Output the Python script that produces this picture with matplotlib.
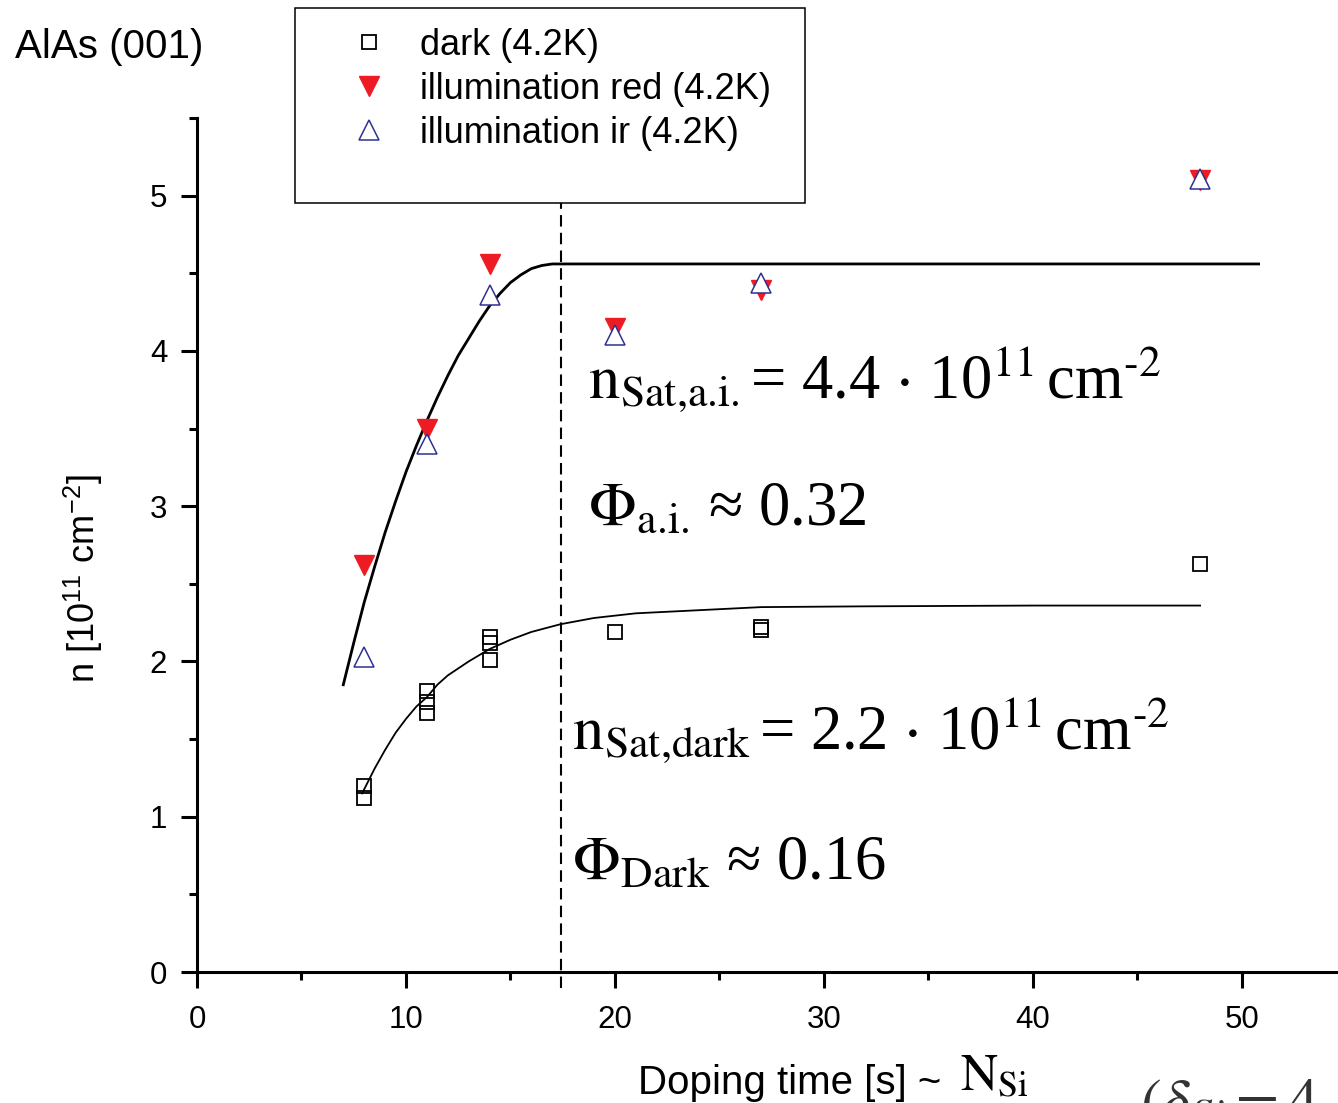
import matplotlib
matplotlib.use("Agg")
import matplotlib.pyplot as plt
from matplotlib.lines import Line2D
from matplotlib.patches import Rectangle

plt.rcParams['font.family'] = ['Liberation Sans', 'DejaVu Sans']
plt.rcParams['mathtext.fontset'] = 'stix'

# ---- data ----
dark_x = [8, 8, 11, 11, 11, 14, 14, 14, 20, 27, 27, 48]
dark_y = [1.20, 1.12, 1.81, 1.74, 1.67, 2.16, 2.12, 2.01, 2.19, 2.22, 2.20, 2.63]

ill_x = [8, 11, 14, 20, 27, 48]
red_y = [2.62, 3.50, 4.56, 4.15, 4.39, 5.10]
ir_y = [2.03, 3.40, 4.36, 4.10, 4.44, 5.11]

fit_ai_x = [7.0, 7.5, 8.0, 8.5, 9.0, 9.5, 10.0, 10.5, 11.0, 11.5, 12.0, 12.5,
            13.0, 13.5, 14.0, 14.5, 15.0, 15.5, 16.0, 16.5, 17.0, 50.8]
fit_ai_y = [1.85, 2.12, 2.38, 2.61, 2.83, 3.03, 3.22, 3.39, 3.55, 3.70, 3.84, 3.97,
            4.08, 4.19, 4.29, 4.37, 4.44, 4.49, 4.53, 4.55, 4.56, 4.56]

fit_dark_x = [7.9, 8.5, 9.0, 9.5, 10.0, 10.5, 11.0, 11.5, 12.0, 13.0, 14.0, 15.0,
              16.0, 17.4, 19.0, 21.0, 24.0, 27.0, 32.0, 40.0, 48.0]
fit_dark_y = [1.15, 1.31, 1.43, 1.54, 1.63, 1.71, 1.77, 1.85, 1.91, 2.00, 2.08, 2.14,
              2.19, 2.24, 2.28, 2.31, 2.33, 2.35, 2.355, 2.36, 2.36]

saturation_x = 17.4

legend_labels = ['dark (4.2K)', 'illumination red (4.2K)', 'illumination ir (4.2K)']
x_ticks = [0, 10, 20, 30, 40, 50]
y_ticks = [0, 1, 2, 3, 4, 5]

RED = '#ed1c24'
BLUE = '#2e3192'
SERIF = ['Liberation Serif', 'DejaVu Serif']

W, H = 1338, 1103
fig = plt.figure(figsize=(W / 100, H / 100), dpi=100)
ax = fig.add_axes([197 / W, 1 - 972 / H, 1 - 197 / W, (972 - 118) / H])
ax.set_xlim(0, 54.6)
ax.set_ylim(0, 5.5)

for s in ['top', 'right']:
    ax.spines[s].set_visible(False)
for s in ['left', 'bottom']:
    ax.spines[s].set_linewidth(2.2)

ax.set_xticks(x_ticks)
ax.set_yticks(y_ticks)
ax.set_xticks([5, 15, 25, 35, 45], minor=True)
ax.set_yticks([0.5, 1.5, 2.5, 3.5, 4.5, 5.5], minor=True)
ax.tick_params(which='major', direction='out', length=11.5, width=2.2, labelsize=22.5)
ax.tick_params(axis='x', which='major', pad=12)
ax.tick_params(axis='y', which='major', pad=10)
ax.tick_params(which='minor', direction='out', length=5.8, width=2.2)

# fits
ax.plot(fit_ai_x, fit_ai_y, color='black', lw=2.0, zorder=2)
ax.plot(fit_dark_x, fit_dark_y, color='black', lw=1.3, zorder=2)
ax.plot([saturation_x, saturation_x], [-0.1, 5.5], color='black', lw=1.5,
        ls=(0, (5.5, 3)), clip_on=False, zorder=1)

# data
ax.plot(dark_x, dark_y, ls='none', marker='s', ms=10.5, mfc='none', mec='black', mew=1.3, zorder=3)
ax.plot(ill_x, red_y, ls='none', marker='v', ms=15, color=RED, mec=RED, zorder=4)
ax.plot(ill_x, ir_y, ls='none', marker='^', ms=15, mfc='white', mec=BLUE, mew=1.1, zorder=5)

# annotations
ann_kw = dict(fontsize=45, va='baseline', ha='left', zorder=6, family=SERIF)
ax.text(18.71, 3.70,
        r'$\mathrm{n}_{\text{Sat,a.i.}}\,$= 4.4 $\cdot$ 10$^{\text{11}}\,$cm$^{\text{-2}}$', **ann_kw)
ax.text(18.71, 2.88, r'$\Phi_{\text{a.i.}}$ ≈ 0.32', **ann_kw)
ax.text(17.94, 1.44,
        r'$\mathrm{n}_{\text{Sat,dark}}\,$= 2.2 $\cdot$ 10$^{\text{11}}\,$cm$^{\text{-2}}$', **ann_kw)
ax.text(17.94, 0.60, r'$\Phi_{\text{Dark}}$ ≈ 0.16', **ann_kw)

# legend box
box = Rectangle((295 / W, 1 - 203 / H), (805 - 295) / W, (203 - 8) / H,
                transform=fig.transFigure, facecolor='white', edgecolor='black',
                lw=1.1, zorder=10)
fig.add_artist(box)
handles = [
    Line2D([], [], ls='none', marker='s', ms=10.5, mfc='none', mec='black', mew=1.3),
    Line2D([], [], ls='none', marker='v', ms=15, color=RED, mec=RED),
    Line2D([], [], ls='none', marker='^', ms=15, mfc='white', mec=BLUE, mew=1.1),
]
leg = fig.legend(handles, legend_labels, loc='upper left',
                 bbox_to_anchor=(351 / W, 1 - 28 / H), frameon=False,
                 fontsize=26, handlelength=1.0, handletextpad=0.92,
                 labelspacing=0.25, borderpad=0, borderaxespad=0)
leg.set_zorder(11)

# texts
fig.text(15 / W, 1 - 58 / H, 'AlAs (001)', fontsize=29, va='baseline', ha='left')
fig.text(638 / W, 1 - 1094 / H, 'Doping time [s] ~', fontsize=29, va='baseline', ha='left')
fig.text(960 / W, 1 - 1091 / H, r'$\mathrm{N}_{\text{Si}}$', fontsize=37, va='baseline', ha='left')
fig.text(82 / W, 1 - 578 / H, r'n [10$^{\mathregular{11}}$ cm$^{\mathregular{-2}}$]',
         fontsize=26, rotation=90, ha='center', va='center')
fig.text(1140 / W, 1 - 1122 / H, r'$(\delta_{Si} = 4$', fontsize=45, va='baseline',
         ha='left', color='#333333')

fig.savefig('out.png', dpi=100)
